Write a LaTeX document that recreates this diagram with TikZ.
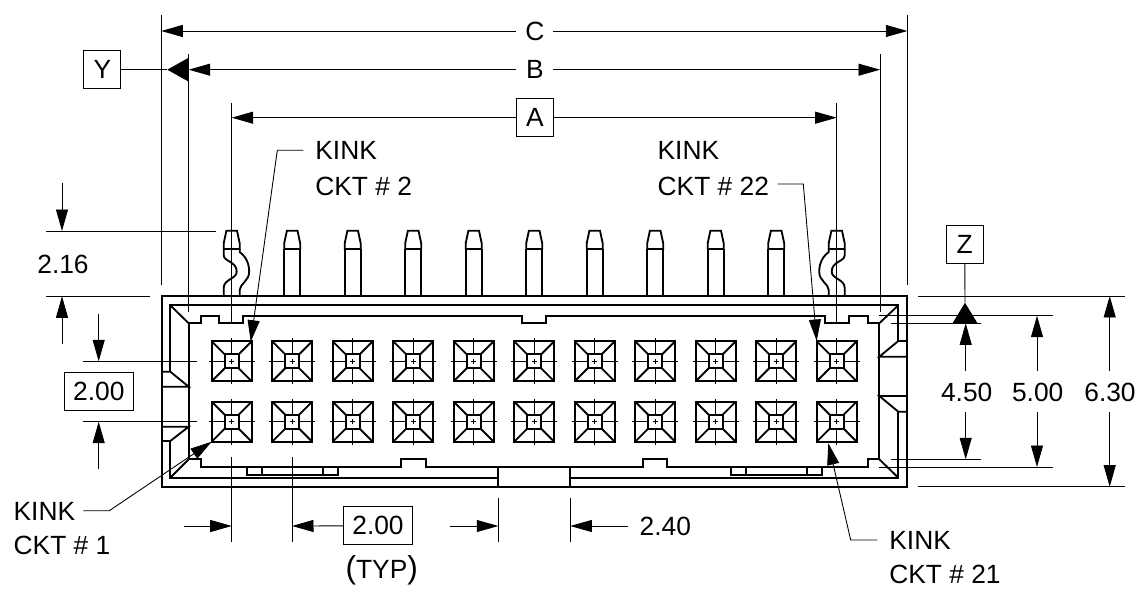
\documentclass[tikz,border=0pt]{standalone}
\usepackage{fontspec}
\setmainfont{Liberation Sans}
\usetikzlibrary{arrows.meta}
\tikzset{
	dimtip/.tip={Triangle[length=4.3mm,width=2.4mm]},
	thinline/.style={line width=0.5pt},
	thickline/.style={line width=1.05pt},
	dimline/.style={thinline,-dimtip},
	label/.style={inner sep=0pt,font=\fontsize{15}{17}\selectfont},
	boxed/.style={label,draw,thinline,minimum height=7.6mm,minimum width=7.4mm},
}
\begin{document}
\begin{tikzpicture}[x=0.02cm,y=-0.02cm]
		\useasboundingbox (0,0) rectangle (1147,598);

		% housing
		\begin{scope}[thickline]
			\draw (161.7,296) rectangle (907.3,486.7);
			\draw (170.3,371.7) -- (170.3,305.3) -- (898.3,305.3) -- (898.3,341);
			\draw (898.3,411.7) -- (898.3,477.7) -- (570.3,477.7);
			\draw (498.3,477.7) -- (170.3,477.7) -- (170.3,441);
			\draw (188.7,459.3) -- (188.7,323.3) -- (201,323.3) -- (201,316) -- (219.3,316) -- (219.3,323.3) -- (243.3,323.3) -- (243.3,316)
				-- (522,316) -- (522,323.3) -- (546,323.3) -- (546,316) -- (825,316) -- (825,323.3) -- (849,323.3) -- (849,316)
				-- (867.7,316) -- (867.7,323.3) -- (879.3,323.3) -- (879.3,459.3) -- (867.7,459.3) -- (867.7,467)
				-- (667.3,467) -- (667.3,459.3) -- (643.3,459.3) -- (643.3,467) -- (425.7,467) -- (425.7,459.3) -- (401,459.3) -- (401,467)
				-- (201,467) -- (201,459.3) -- (188.7,459.3);

			\draw (170.3,305.3) -- (188.7,323.3);
			\draw (898.3,305.3) -- (879.3,323.3);
			\draw (170.3,477.7) -- (188.7,459.3);
			\draw (898.3,477.7) -- (879.3,459.3);

			\draw (161.7,371.7) -- (170.3,371.7) -- (188.7,386.7) -- (161.7,386.7);
			\draw (161.7,426.7) -- (188.7,426.7) -- (170.3,441) -- (161.7,441);
			\draw (907.3,341) -- (898.3,341) -- (879.3,356.7) -- (907.3,356.7);
			\draw (907.3,396) -- (879.3,396) -- (898.3,411.7) -- (907.3,411.7);

			\draw (498.3,467) -- (498.3,486.7);
			\draw (570.3,467) -- (570.3,486.7);

			\draw (246.7,467) rectangle (338.3,475);
			\draw (262,467) -- (262,475);
			\draw (322.7,467) -- (322.7,475);
			\draw (730.7,467) rectangle (821.7,475);
			\draw (746,467) -- (746,475);
			\draw (806.7,467) -- (806.7,475);
		\end{scope}

		% pins
		\foreach \i in {0,...,10} {
			\pgfmathsetmacro{\px}{231.7+60.5*\i}
			\begin{scope}[shift={(\px,0)},thickline]
				\draw (-8,249) -- (-8,243.3) -- (-5.3,230.7) -- (5.3,230.7) -- (8,243.3) -- (8,249) -- cycle;
			\end{scope}
		}
		\foreach \i in {1,...,9} {
			\pgfmathsetmacro{\px}{231.7+60.5*\i}
			\begin{scope}[shift={(\px,0)},thickline]
				\draw (-8,249) -- (-8,296);
				\draw (8,249) -- (8,296);
			\end{scope}
		}
		\foreach \px/\sx in {231.7/1, 836.7/-1} {
			\begin{scope}[shift={(\px,0)},xscale=\sx,thickline]
				\draw (-8,249) -- (-8,255) .. controls (-8,262) and (5,261) .. (5,271.7) .. controls (5,279) and (-8,279) .. (-8,288) -- (-8,296);
				\draw (8,249) -- (8,252) .. controls (12,255) and (17.5,261) .. (17.5,271.7) .. controls (17.5,281) and (8,284) .. (8,290) -- (8,296);
			\end{scope}
		}

		% contacts
		\foreach \i in {0,...,10} {
			\foreach \cy in {361.3,421.7} {
				\pgfmathsetmacro{\cx}{231.7+60.5*\i}
				\begin{scope}[shift={(\cx,\cy)}]
					\draw[thickline] (-20,-20) rectangle (20,20);
					\draw[thickline] (-7,-7) rectangle (7,7);
					\draw[thickline] (-20,-20) -- (-7,-7);
					\draw[thickline] (20,-20) -- (7,-7);
					\draw[thickline] (-20,20) -- (-7,7);
					\draw[thickline] (20,20) -- (7,7);
					\draw[thinline] (-23,0) -- (-7,0);
					\draw[thinline] (7,0) -- (23,0);
					\draw[thinline] (0,-23) -- (0,-7);
					\draw[thinline] (0,7) -- (0,23);
					\draw[thinline] (-2.5,0) -- (2.5,0);
					\draw[thinline] (0,-2.5) -- (0,2.5);
				\end{scope}
			}
		}

		% extension lines
		\begin{scope}[thinline]
			\draw (161.3,15) -- (161.3,285);
			\draw (907.3,15) -- (907.3,285);
			\draw (188.7,54.3) -- (188.7,311.7);
			\draw (880,54.3) -- (880,311.7);
			\draw (231.7,102.7) -- (231.7,323);
			\draw (836.7,102.7) -- (836.7,323);

			\draw (46.3,231) -- (216,231);
			\draw (46.3,296.3) -- (150.3,296.3);
			\draw (83.3,361.3) -- (197.3,361.3);
			\draw (83.3,421.7) -- (197.3,421.7);

			\draw (231.7,456.7) -- (231.7,541.7);
			\draw (292,456.7) -- (292,541.7);
			\draw (498.3,498.3) -- (498.3,541.7);
			\draw (570.3,498.3) -- (570.3,541.7);

			\draw (918,296) -- (1125,296);
			\draw (879.3,315.7) -- (1052.7,315.7);
			\draw (890.7,323.3) -- (981,323.3);
			\draw (890.7,459.3) -- (981,459.3);
			\draw (879.3,467) -- (1052.7,467);
			\draw (918,486.7) -- (1125,486.7);
		\end{scope}

		% dimensions
		\node[label] (C) at (535,31) {C};
		\coordinate (C1) at (161.3,31);
		\coordinate (C2) at (907.3,31);
		\draw[dimline] (516,31) -- (C1);
		\draw[dimline] (553,31) -- (C2);

		\node[label] (B) at (535,69.7) {B};
		\coordinate (B1) at (188.7,69.7);
		\coordinate (B2) at (880,69.7);
		\draw[dimline] (516,69.7) -- (B1);
		\draw[dimline] (553,69.7) -- (B2);

		\node[boxed] (A) at (535,117.7) {A};
		\coordinate (A1) at (231.7,117.7);
		\coordinate (A2) at (836.7,117.7);
		\draw[dimline] (A) -- (A1);
		\draw[dimline] (A) -- (A2);

		\node[boxed] (Y) at (102.3,69.7) {Y};
		\coordinate (Ytip) at (167.3,69.7);
		\draw[thinline] (Y) -- (Ytip);
		\fill (Ytip) -- (188.7,57.7) -- (188.7,81.7) -- cycle;

		\node[boxed] (Z) at (964.7,244.5) {Z};
		\coordinate (Ztip) at (965,302.7);
		\draw[thinline] (Z) -- (Ztip);
		\fill (Ztip) -- (952.5,323.3) -- (977.5,323.3) -- cycle;

		\node[label] (216) at (63,264) {2.16};
		\draw[dimline] (62,183.3) -- (62,231);
		\draw[dimline] (62,343.7) -- (62,296.3);

		\node[boxed,minimum width=13.8mm] (200l) at (98.8,391.5) {2.00};
		\draw[dimline] (98.7,314) -- (98.7,361.3);
		\draw[dimline] (98.7,469) -- (98.7,421.7);

		\node[boxed,minimum width=13.9mm] (200b) at (378,525.8) {2.00};
		\node[label] (typ) at (381.7,570) {{\fontsize{18}{18}\selectfont(}TYP{\fontsize{18}{18}\selectfont)}};
		\coordinate (P1) at (231.7,526);
		\coordinate (P2) at (292,526);
		\draw[dimline] (184,526) -- (P1);
		\draw[dimline] (200b) -- (P2);

		\node[label,anchor=west] (240) at (639.3,526) {2.40};
		\coordinate (G1) at (498.3,526);
		\coordinate (G2) at (570.3,526);
		\draw[dimline] (450.3,526) -- (G1);
		\draw[dimline] (628.3,526) -- (G2);

		\node[label] (450) at (966.7,392) {4.50};
		\draw[dimline] (965.7,370.7) -- (965.7,323.3);
		\draw[dimline] (965.7,412) -- (965.7,459.3);

		\node[label] (500) at (1037.7,392) {5.00};
		\draw[dimline] (1037,370.7) -- (1037,315.7);
		\draw[dimline] (1037,412) -- (1037,467);

		\node[label] (630) at (1110,392) {6.30};
		\draw[dimline] (1109.7,370.7) -- (1109.7,296);
		\draw[dimline] (1109.7,412) -- (1109.7,486.7);

		% kink callouts
		\node[label,anchor=west] (K2) at (315,150.5) {KINK};
		\node[label,anchor=west] (T2) at (315,186) {CKT \# 2};
		\coordinate (L2) at (277.3,150.3);
		\coordinate (P2k) at (250.7,341.7);
		\draw[dimline] (303.3,150.3) -- (L2) -- (P2k);

		\node[label,anchor=west] (K22) at (657.3,150.5) {KINK};
		\node[label,anchor=west] (T22) at (657.3,186) {CKT \# 22};
		\coordinate (L22) at (803.3,184);
		\coordinate (P22k) at (816.7,341);
		\draw[dimline] (777.7,184) -- (L22) -- (P22k);

		\node[label,anchor=west] (K1) at (13.3,511.7) {KINK};
		\node[label,anchor=west] (T1) at (13.3,545.3) {CKT \# 1};
		\coordinate (L1) at (109.3,510.7);
		\coordinate (P1k) at (211.7,441.7);
		\draw[dimline] (83.3,510.7) -- (L1) -- (P1k);

		\node[label,anchor=west] (K21) at (889,540) {KINK};
		\node[label,anchor=west] (T21) at (889,574.3) {CKT \# 21};
		\coordinate (L21) at (850.7,540);
		\coordinate (P21k) at (828.3,443.3);
		\draw[dimline] (877.3,540) -- (L21) -- (P21k);
\end{tikzpicture}
\end{document}
